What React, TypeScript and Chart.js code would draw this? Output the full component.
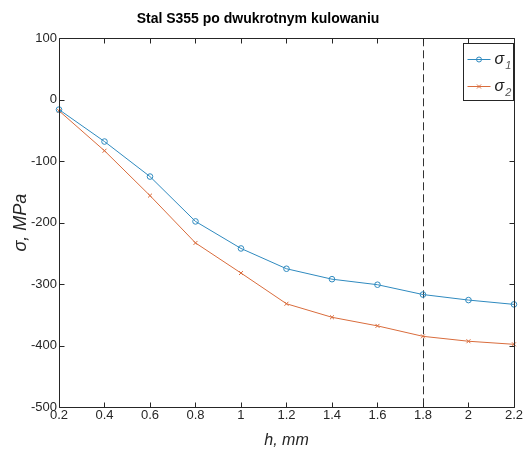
import React, { useEffect, useRef } from "react";
import { Chart, registerables } from "chart.js";

Chart.register(...registerables);

// ---- data ----
const depthMm = [0.2, 0.4, 0.6, 0.8, 1.0, 1.2, 1.4, 1.6, 1.8, 2.0, 2.2];
const sigma1 = [-16, -68, -125, -198, -242, -275, -292, -301, -317, -326, -333];
const sigma2 = [-18, -83, -156, -233, -282, -332, -354, -368, -385, -393, -398];
const seriesBase = ["σ", "σ"];
const seriesSub = ["1", "2"];
const xTickValues = [0.2, 0.4, 0.6, 0.8, 1.0, 1.2, 1.4, 1.6, 1.8, 2.0, 2.2];
const yTickValues = [-500, -400, -300, -200, -100, 0, 100];
const markerDepth = 1.8;
const chartTitle = "Stal S355 po dwukrotnym kulowaniu";
const xTitle = "h, mm";
const yTitle = "σ, MPa";

const NARROW = "'Liberation Sans Narrow', 'Arial Narrow', 'Liberation Sans', Arial, sans-serif";
const REGULAR = "'Liberation Sans', Arial, sans-serif";
const AXIS = "#262626";
const C1 = "#2f8abf";
const C2 = "#d96c3c";

const framePlugin = {
  id: "frame",
  beforeDatasetsDraw(chart: any) {
    const { ctx, chartArea, scales } = chart;
    const px = Math.round(scales.x.getPixelForValue(markerDepth)) + 0.5;
    ctx.save();
    ctx.strokeStyle = "#333";
    ctx.lineWidth = 1;
    ctx.setLineDash([8, 4]);
    ctx.beginPath();
    ctx.moveTo(px, chartArea.top);
    ctx.lineTo(px, chartArea.bottom);
    ctx.stroke();
    ctx.restore();
  },
  afterDatasetsDraw(chart: any) {
    const { ctx, chartArea, scales } = chart;
    const L = Math.round(chartArea.left) + 0.5;
    const R = Math.round(chartArea.right) + 0.5;
    const T = Math.round(chartArea.top) + 0.5;
    const B = Math.round(chartArea.bottom) + 0.5;
    const tl = 5;
    ctx.save();
    ctx.strokeStyle = AXIS;
    ctx.lineWidth = 1;
    ctx.beginPath();
    ctx.rect(L, T, R - L, B - T);
    for (const v of yTickValues) {
      const py = Math.round(scales.y.getPixelForValue(v)) + 0.5;
      ctx.moveTo(L, py);
      ctx.lineTo(L + tl, py);
      ctx.moveTo(R, py);
      ctx.lineTo(R - tl, py);
    }
    for (const v of xTickValues) {
      const px = Math.round(scales.x.getPixelForValue(v)) + 0.5;
      ctx.moveTo(px, B);
      ctx.lineTo(px, B - tl);
      ctx.moveTo(px, T);
      ctx.lineTo(px, T + tl);
    }
    ctx.stroke();
    ctx.restore();
  },
  afterDraw(chart: any) {
    const { ctx, chartArea } = chart;
    const R = Math.round(chartArea.right) - 0.5;
    const w = 50;
    const top = Math.round(chartArea.top) + 5.5;
    const h = 57;
    const Lx = R - w;
    ctx.save();
    ctx.fillStyle = "#fff";
    ctx.fillRect(Lx, top, w, h);
    ctx.strokeStyle = AXIS;
    ctx.lineWidth = 1;
    ctx.strokeRect(Lx, top, w, h);
    chart.data.datasets.forEach((ds: any, i: number) => {
      const cy = top + 16 + i * 27;
      const x0 = Lx + 4;
      const x1 = Lx + 27;
      ctx.strokeStyle = ds.borderColor;
      ctx.lineWidth = 1;
      ctx.beginPath();
      ctx.moveTo(x0, cy);
      ctx.lineTo(x1, cy);
      ctx.stroke();
      const mx = (x0 + x1) / 2;
      ctx.beginPath();
      if (i === 0) {
        ctx.arc(mx, cy, 2.5, 0, Math.PI * 2);
      } else {
        ctx.moveTo(mx - 2, cy - 2);
        ctx.lineTo(mx + 2, cy + 2);
        ctx.moveTo(mx + 2, cy - 2);
        ctx.lineTo(mx - 2, cy + 2);
      }
      ctx.stroke();
      ctx.fillStyle = "#1a1a1a";
      ctx.textBaseline = "alphabetic";
      ctx.textAlign = "left";
      ctx.font = `italic 16px ${NARROW}`;
      const tx = x1 + 4;
      ctx.fillText(seriesBase[i], tx, cy + 4);
      const bw = ctx.measureText(seriesBase[i]).width;
      ctx.fillStyle = "#555";
      ctx.font = `italic 11px ${NARROW}`;
      ctx.fillText(seriesSub[i], tx + bw + 1, cy + 9);
    });
    ctx.restore();
  },
};

export default function App() {
  const ref = useRef<HTMLCanvasElement | null>(null);
  useEffect(() => {
    if (!ref.current) return;
    const tickFont = { family: NARROW, size: 13 };
    const chart = new Chart(ref.current, {
      type: "line",
      data: {
        datasets: [
          {
            label: seriesBase[0] + seriesSub[0],
            data: depthMm.map((x, i) => ({ x, y: sigma1[i] })),
            borderColor: C1,
            backgroundColor: "transparent",
            borderWidth: 1,
            pointStyle: "circle",
            pointRadius: 2.8,
            pointBorderWidth: 1,
            pointBorderColor: C1,
            pointBackgroundColor: "transparent",
            tension: 0,
            clip: false,
          },
          {
            label: seriesBase[1] + seriesSub[1],
            data: depthMm.map((x, i) => ({ x, y: sigma2[i] })),
            borderColor: C2,
            backgroundColor: "transparent",
            borderWidth: 1,
            pointStyle: "crossRot",
            pointRadius: 2.8,
            pointBorderWidth: 1,
            pointBorderColor: C2,
            tension: 0,
            clip: false,
          },
        ],
      } as any,
      options: {
        responsive: false,
        animation: false,
        devicePixelRatio: 1,
        layout: { padding: { left: 0, right: 8, top: 0, bottom: 0 } },
        plugins: {
          legend: { display: false },
          tooltip: { enabled: false },
          title: {
            display: true,
            text: chartTitle,
            color: "#000",
            font: { family: NARROW, size: 14, weight: "bold", lineHeight: 1.2 },
            padding: { top: 11, bottom: 10.5 },
          },
        },
        scales: {
          x: {
            type: "linear",
            min: xTickValues[0],
            max: xTickValues[xTickValues.length - 1],
            afterBuildTicks: (s: any) => {
              s.ticks = xTickValues.map((v) => ({ value: v }));
            },
            afterFit: (s: any) => {
              s.height = 43;
            },
            grid: { display: false, drawTicks: false },
            border: { display: false },
            ticks: {
              padding: 1,
              font: tickFont,
              color: AXIS,
              maxRotation: 0,
              autoSkip: false,
              callback: (v: any) => String(Number(Number(v).toFixed(1))),
            },
            title: {
              display: true,
              text: xTitle,
              color: AXIS,
              font: { family: NARROW, size: 16, style: "italic", lineHeight: 1 },
              padding: { top: 0, bottom: 1 },
            },
          },
          y: {
            type: "linear",
            min: yTickValues[0],
            max: yTickValues[yTickValues.length - 1],
            afterBuildTicks: (s: any) => {
              s.ticks = yTickValues.map((v) => ({ value: v }));
            },
            afterFit: (s: any) => {
              s.width = 59;
            },
            grid: { display: false, drawTicks: false },
            border: { display: false },
            ticks: {
              padding: 2,
              font: tickFont,
              color: AXIS,
              autoSkip: false,
              callback: (v: any) => String(v),
            },
            title: {
              display: true,
              text: yTitle,
              color: AXIS,
              font: { family: REGULAR, size: 18, style: "italic", lineHeight: 1 },
              padding: { top: 12, bottom: 0 },
            },
          },
        },
      } as any,
      plugins: [framePlugin],
    });
    return () => chart.destroy();
  }, []);
  return (
    <div style={{ position: "absolute", left: 0, top: 0, width: 524, height: 450, background: "#fff" }}>
      <canvas ref={ref} width={524} height={450} style={{ display: "block" }} />
    </div>
  );
}
